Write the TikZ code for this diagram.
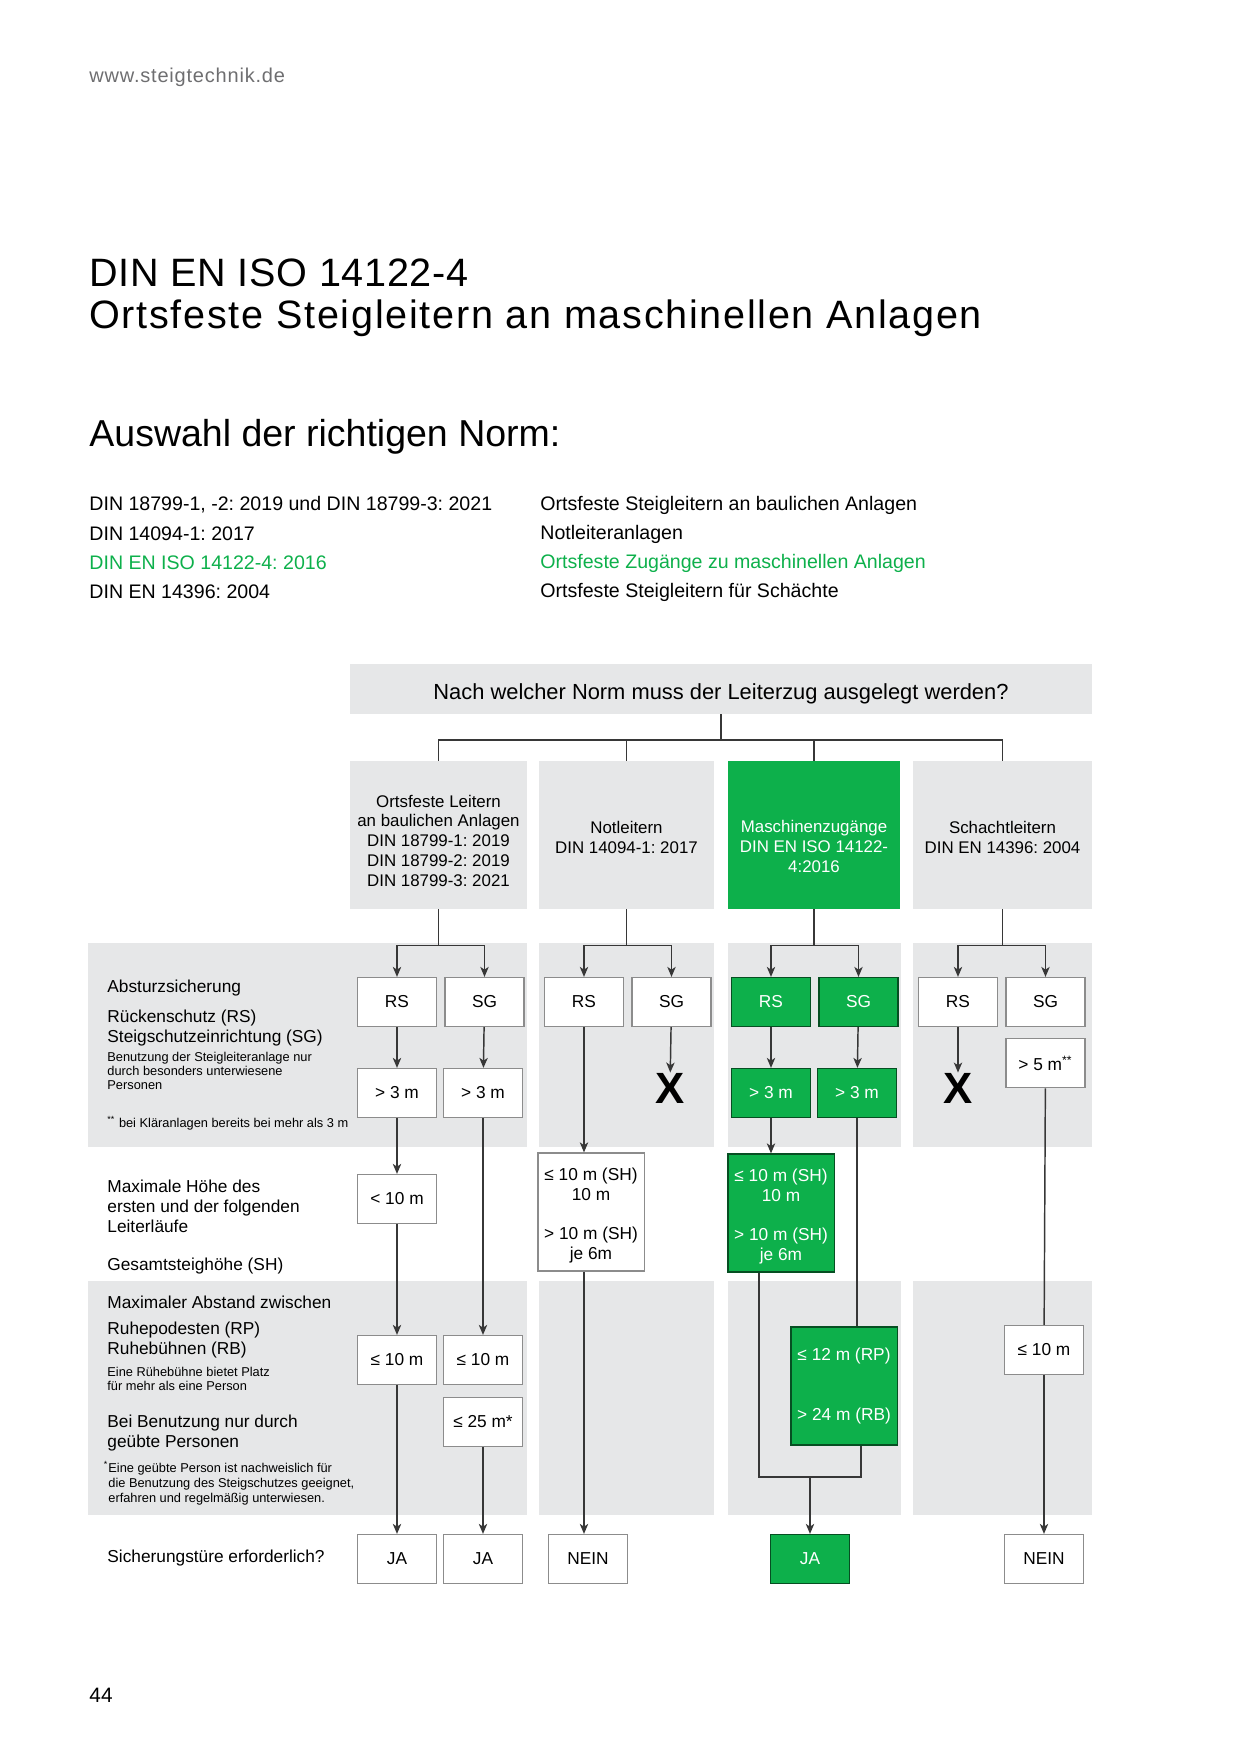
\documentclass[tikz,border=0pt]{standalone}
\usepackage{fontspec}
\setmainfont{Liberation Sans}
\usetikzlibrary{arrows.meta,positioning,calc}
\definecolor{normgreen}{RGB}{13,176,75}
\definecolor{bandgray}{RGB}{230,231,232}
\definecolor{linegray}{RGB}{55,55,55}
\definecolor{webgray}{RGB}{110,110,112}
\newcommand{\lowerby}[1]{\rule{0pt}{#1}}

\begin{document}
\frenchspacing
\begin{tikzpicture}[x=0.48pt,y=-0.48pt,
  every node/.style={font=\fontsize{8.3}{9.6}\selectfont, inner sep=0pt},
  box/.style={draw=black!45, line width=0.6pt, fill=white, minimum width=38pt, minimum height=23.5pt, align=center},
  greenbox/.style={box, draw=normgreen!45!black, fill=normgreen, text=white},
  tallbox/.style={minimum width=51pt, minimum height=56.6pt},
  colbox/.style={fill=bandgray, minimum height=71pt, align=center, font=\fontsize{8.1}{9.5}\selectfont},
  lbl/.style={anchor=west, align=left},
  smalllbl/.style={lbl, font=\fontsize{6.15}{6.6}\selectfont},
  listtext/.style={anchor=west, font=\fontsize{9.4}{11}\selectfont},
  cross/.style={font=\fontsize{21}{21}\selectfont\bfseries},
  conn/.style={draw=linegray, line width=0.7pt},
  arr/.style={conn, -{Stealth[length=4.8pt,width=4pt,inset=1.3pt]}}
]
\useasboundingbox (0,0) rectangle (1240,1754);

\foreach \ya/\yb in {943/1147,1281/1515}
  \foreach \xa/\xb in {88/527,539/714,728/901,913/1092}
    \fill[bandgray] (\xa,\ya) rectangle (\xb,\yb);

\node[anchor=west, text=webgray, font=\fontsize{9.6}{11}\selectfont\addfontfeature{LetterSpace=4}] (web) at (89,77) {www.steigtechnik.de};
\node[anchor=west, align=left, font=\fontsize{19}{20.2}\selectfont] (title) at (89,298) {{\addfontfeature{LetterSpace=1.7}DIN EN ISO 14122-4}\\{\addfontfeature{LetterSpace=4.3}Ortsfeste Steigleitern an maschinellen Anlagen}};
\node[anchor=west, font=\fontsize{18}{20}\selectfont] (choice) at (89,437) {Auswahl der richtigen Norm:};

\node[listtext] (norm1) at (89,505) {DIN 18799-1, -2: 2019 und DIN 18799-3: 2021};
\node[listtext] (norm2) at (89,534) {DIN 14094-1: 2017};
\node[listtext, text=normgreen] (norm3) at (89,563) {DIN EN ISO 14122-4: 2016};
\node[listtext] (norm4) at (89,592) {DIN EN 14396: 2004};
\node[listtext] (desc1) at (540,505) {Ortsfeste Steigleitern an baulichen Anlagen};
\node[listtext] (desc2) at (540,534) {Notleiteranlagen};
\node[listtext, text=normgreen] (desc3) at (540,563) {Ortsfeste Zugänge zu maschinellen Anlagen};
\node[listtext] (desc4) at (540,592) {Ortsfeste Steigleitern für Schächte};

\node[fill=bandgray, minimum width=356.2pt, minimum height=24pt, text height=12pt, text depth=2.2pt, font=\fontsize{10.5}{12}\selectfont] (question) at (721,689) {Nach welcher Norm muss der Leiterzug ausgelegt werden?};

\node[colbox, minimum width=85pt] (bau) at (438.5,835) {\lowerby{11.3pt}Ortsfeste Leitern\\an baulichen Anlagen\\DIN 18799-1: 2019\\DIN 18799-2: 2019\\DIN 18799-3: 2021};
\node[colbox, minimum width=84pt] (not) at (626.5,835) {\lowerby{8.6pt}Notleitern\\DIN 14094-1: 2017};
\node[colbox, minimum width=82.6pt, fill=normgreen, text=white] (mas) at (814,835) {\lowerby{16.7pt}Maschinenzugänge\\DIN EN ISO 14122-\\4:2016};
\node[colbox, minimum width=86pt] (sch) at (1002.5,835) {\lowerby{8.6pt}Schachtleitern\\DIN EN 14396: 2004};

\coordinate (split) at (721,740);
\draw[conn] (question.south) -- (split);
\draw[conn] (bau.north) |- (split) -| (sch.north);
\draw[conn] (not.north) -- (not.north |- split);
\draw[conn] (mas.north) -- (mas.north |- split);

\foreach \n/\x/\f/\t/\d in {1/397/white/black/black!45,2/584/white/black/black!45,3/771/normgreen/white/normgreen!45!black,4/958/white/black/black!45} {
  \node[box, fill=\f, text=\t, draw=\d] (rs\n) at (\x,1002) {RS};
  \node[box, fill=\f, text=\t, draw=\d, right=3.4pt of rs\n] (sg\n) {SG};
}
\foreach \c/\n in {bau/1,not/2,mas/3,sch/4} {
  \draw[conn] (\c.south) -- ++(0,36) coordinate (fork\n);
  \draw[arr] (fork\n) -| (rs\n.north);
  \draw[arr] (fork\n) -| (sg\n.north);
}

\node[box] (rsh1) at (397,1093) {> 3 m};
\node[box] (sgh1) at (483,1093) {> 3 m};
\node[box] (max1) at (397,1199) {< 10 m};
\node[box] (rest1) at (397,1360) {≤ 10 m};
\node[box] (rests1) at (483,1360) {≤ 10 m};
\node[box] (train1) at (483,1422) {≤ 25 m*};
\node[box] (door1) at (397,1559) {JA};
\node[box] (doors1) at (483,1559) {JA};

\node[cross] (x2) at (670,1088) {X};
\node[box, tallbox] (sh2) at (591,1212) {\lowerby{9.4pt}≤ 10 m (SH)\\10 m\\[9.4pt]> 10 m (SH)\\je 6m};
\node[box] (door2) at (588,1559) {NEIN};

\node[greenbox] (rsh3) at (771,1093) {> 3 m};
\node[greenbox] (sgh3) at (857,1093) {> 3 m};
\node[greenbox, tallbox] (sh3) at (781,1213) {\lowerby{9.4pt}≤ 10 m (SH)\\10 m\\[9.4pt]> 10 m (SH)\\je 6m};
\node[greenbox, tallbox] (rp3) at (844,1386) {≤ 12 m (RP)\\[19pt]> 24 m (RB)};
\node[greenbox] (door3) at (810,1559) {JA};

\node[cross] (x4) at (958,1088) {X};
\node[box, below=5.3pt of sg4] (sgh4) {> 5 m\textsuperscript{**}};
\node[box] (rest4) at (1044,1350) {≤ 10 m};
\node[box] (door4) at (1044,1559) {NEIN};

\draw[arr] (rs1) -- (rsh1);
\draw[arr] (sg1) -- (sgh1);
\draw[arr] (rsh1) -- (max1);
\draw[arr] (max1) -- (rest1);
\draw[arr] (rest1) -- (door1);
\draw[arr] (sgh1) -- (rests1);
\draw[arr] (train1) -- (doors1);

\draw[arr] (sg2) -- (x2);
\draw[arr] (rs2.south) -- (rs2.south |- sh2.north);
\draw[arr] (sh2.south -| rs2.south) -- (rs2.south |- door2.north);

\draw[arr] (rs3) -- (rsh3);
\draw[arr] (sg3) -- (sgh3);
\draw[arr] (rsh3.south) -- (rsh3.south |- sh3.north);
\draw[conn] (sgh3.south) -- (sgh3.south |- rp3.north);
\coordinate (leftleg3) at (759,1477);
\coordinate (rightleg3) at (861,1477);
\coordinate (join3) at (810,1477);
\draw[conn] (sh3.south -| leftleg3) -- (leftleg3) -- (rightleg3) -- (rp3.south -| rightleg3);
\draw[arr] (join3) -- (door3);

\draw[arr] (rs4) -- (x4);
\draw[conn] (sgh4) -- (rest4);
\draw[arr] (rest4) -- (door4);

\node[lbl] (fall) at (107,988) {Absturzsicherung};
\node[lbl] (guard) at (107,1028) {Rückenschutz (RS)\\Steigschutzeinrichtung (SG)};
\node[smalllbl] (instructed) at (107,1071) {Benutzung der Steigleiteranlage nur\\durch besonders unterwiesene\\Personen};
\node[smalllbl] (sewage) at (107,1123) {\textsuperscript{**} bei Kläranlagen bereits bei mehr als 3 m};
\node[lbl] (height) at (107,1206) {Maximale Höhe des\\ersten und der folgenden\\Leiterläufe};
\node[lbl] (total) at (107,1266) {Gesamtsteighöhe (SH)};
\node[lbl] (spacing) at (107,1302) {Maximaler Abstand zwischen};
\node[lbl] (landing) at (107,1340) {Ruhepodesten (RP)\\Ruhebühnen (RB)};
\node[smalllbl] (bench) at (107,1379) {Eine Rühebühne bietet Platz\\für mehr als eine Person};
\node[lbl] (users) at (107,1433) {Bei Benutzung nur durch\\geübte Personen};
\node[smalllbl, font=\fontsize{6.15}{7.2}\selectfont] (expert) at (108,1483) {\llap{\textsuperscript{*}}Eine geübte Person ist nachweislich für\\die Benutzung des Steigschutzes geeignet,\\erfahren und regelmäßig unterwiesen.};
\node[lbl] (doorq) at (107,1558) {Sicherungstüre erforderlich?};

\node[anchor=west, font=\fontsize{10}{12}\selectfont] (page) at (89,1695) {44};
\end{tikzpicture}
\end{document}
